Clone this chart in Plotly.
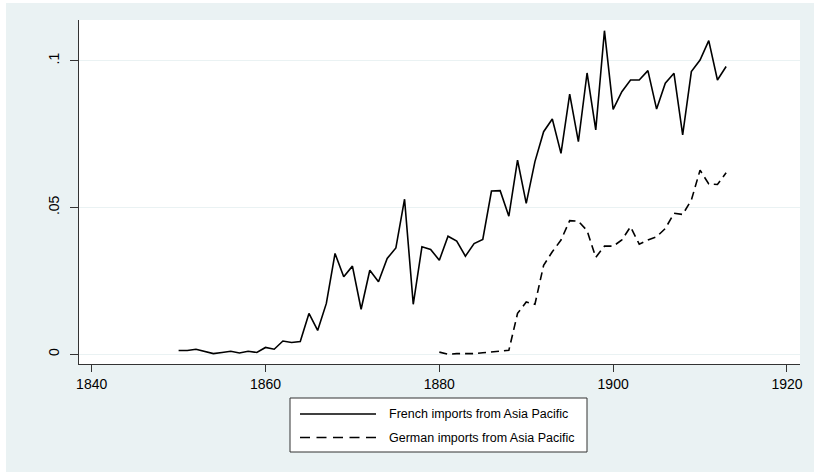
import plotly.graph_objects as go

# Import shares from Asia Pacific, by year
french_years = list(range(1850, 1914))
french_share = [
    0.00125, 0.00125, 0.0017, 0.0009, 0.0002, 0.0006, 0.0010, 0.0004, 0.0010, 0.0006,
    0.0023, 0.0017, 0.0045, 0.0040, 0.0043, 0.0139, 0.0081, 0.0173, 0.0343, 0.0264,
    0.0300, 0.0153, 0.0286, 0.0247, 0.0326, 0.0362, 0.0528, 0.0170, 0.0366, 0.0357,
    0.0320, 0.0402, 0.0385, 0.0334, 0.0377, 0.0391, 0.0556, 0.0557, 0.0470, 0.0661,
    0.0514, 0.0656, 0.0758, 0.0801, 0.0684, 0.0886, 0.0724, 0.0958, 0.0764, 0.1102,
    0.0834, 0.0894, 0.0934, 0.0934, 0.0966, 0.0835, 0.0923, 0.0957, 0.0747, 0.0963,
    0.1002, 0.1068, 0.0934, 0.0980,
]

german_years = list(range(1880, 1914))
german_share = [
    0.0007, 0.0000, 0.0002, 0.0001, 0.0002, 0.0005, 0.0008, 0.0009, 0.0013, 0.0139,
    0.0178, 0.0170, 0.0303, 0.0349, 0.0389, 0.0455, 0.0453, 0.0421, 0.0330, 0.0368,
    0.0368, 0.0389, 0.0434, 0.0375, 0.0389, 0.0400, 0.0428, 0.0480, 0.0476, 0.0525,
    0.0627, 0.0580, 0.0578, 0.0618,
]

series_names = ["French imports from Asia Pacific", "German imports from Asia Pacific"]
x_ticks = [1840, 1860, 1880, 1900, 1920]
y_ticks = [0, 0.05, 0.1]
y_tick_text = ["0", ".05", ".1"]

W, H = 814, 472
ML, MR, MT, MB = 79, 14, 20, 108
PW, PH = W - ML - MR, H - MT - MB
BG = "#EAF2F3"
FONT = "Liberation Sans, Arial, sans-serif"


def px_x(px):
    return (px - ML) / PW


def px_y(py):
    return (H - MB - py) / PH


fig = go.Figure()
fig.add_trace(go.Scatter(
    x=french_years, y=french_share, mode="lines", name=series_names[0],
    line=dict(color="black", width=1.6),
))
fig.add_trace(go.Scatter(
    x=german_years, y=german_share, mode="lines", name=series_names[1],
    line=dict(color="black", width=1.6, dash="8px,5px"),
))

shapes = [
    # graph region with a thin white outer margin
    dict(type="rect", xref="paper", yref="paper", layer="below",
         x0=px_x(6), x1=px_x(W + 5), y0=px_y(H + 5), y1=px_y(3),
         fillcolor=BG, line=dict(width=0)),
    dict(type="rect", xref="paper", yref="paper", layer="below",
         x0=0, x1=1, y0=0, y1=1, fillcolor="white", line=dict(width=0)),
    # key box
    dict(type="rect", xref="paper", yref="paper",
         x0=px_x(290), x1=px_x(587), y0=px_y(452), y1=px_y(398),
         fillcolor="white", line=dict(color="#333333", width=1)),
    dict(type="line", xref="paper", yref="paper",
         x0=px_x(300), x1=px_x(376), y0=px_y(414), y1=px_y(414),
         line=dict(color="black", width=1.6)),
    dict(type="line", xref="paper", yref="paper",
         x0=px_x(300), x1=px_x(376), y0=px_y(437.5), y1=px_y(437.5),
         line=dict(color="black", width=1.6, dash="10px,6.5px")),
]

annotations = [
    dict(xref="paper", yref="paper", x=px_x(387), y=px_y(414), text=series_names[0],
         showarrow=False, xanchor="left", yanchor="middle",
         font=dict(family=FONT, size=12.5, color="black")),
    dict(xref="paper", yref="paper", x=px_x(387), y=px_y(437.5), text=series_names[1],
         showarrow=False, xanchor="left", yanchor="middle",
         font=dict(family=FONT, size=12.5, color="black")),
]

fig.update_layout(
    width=W, height=H,
    margin=dict(l=ML, r=MR, t=MT, b=MB),
    paper_bgcolor="white",
    plot_bgcolor="white",
    showlegend=False,
    shapes=shapes,
    annotations=annotations,
    font=dict(family=FONT, color="black"),
)

fig.update_xaxes(
    range=[1838.54, 1921.5], tickmode="array", tickvals=x_ticks,
    ticks="outside", ticklen=7, tickcolor="#333333", tickwidth=1,
    showline=True, linecolor="#333333", linewidth=1,
    showgrid=False, zeroline=False,
    tickfont=dict(family=FONT, size=14, color="black"),
)
fig.update_yaxes(
    range=[-0.00334, 0.11385], tickmode="array", tickvals=y_ticks, ticktext=y_tick_text,
    tickangle=-90, ticklabelstandoff=5,
    ticks="outside", ticklen=8, tickcolor="#333333", tickwidth=1,
    showline=True, linecolor="#333333", linewidth=1,
    showgrid=True, gridcolor=BG, gridwidth=1.2, zeroline=False,
    tickfont=dict(family=FONT, size=14, color="black"),
)

fig.write_html("out.html")
